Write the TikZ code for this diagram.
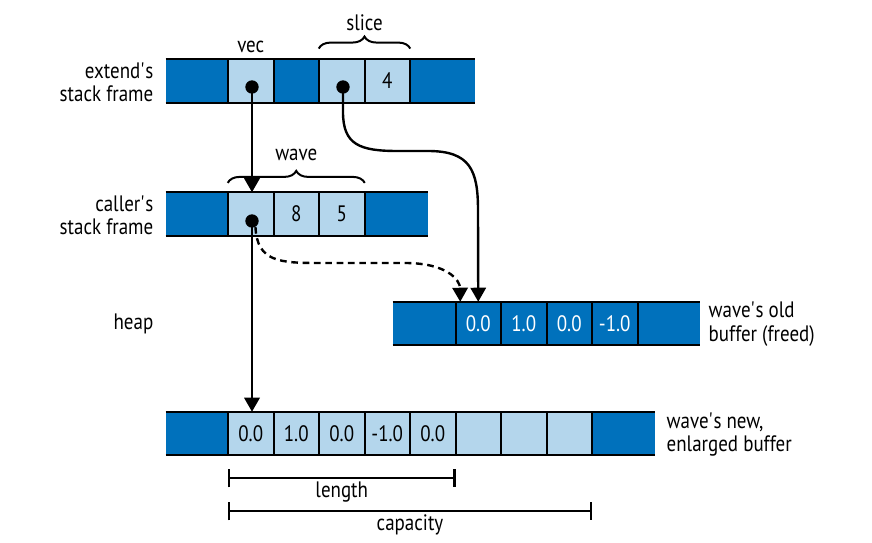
\documentclass[tikz,border=0pt]{standalone}
\usepackage{fontspec}
\setmainfont[FakeStretch=0.85]{PT Sans}
\usetikzlibrary{arrows.meta,decorations.pathreplacing}
\definecolor{azuloscuro}{HTML}{0071BC}
\definecolor{azulclaro}{HTML}{B4D6EC}
\begin{document}
\begin{tikzpicture}[x=0.75pt,y=-0.75pt,
    font=\fontsize{16.75}{17.5}\selectfont,
    celda/.style={rectangle,inner sep=0pt,minimum height=32.25pt,minimum width=34.125pt},
    oscura/.style={celda,fill=azuloscuro},
    clara/.style={celda,fill=azulclaro},
    extremo/.style={oscura,minimum width=#1},
    liberada/.style={oscura,text=white},
    borde/.style={line width=1.8pt},
    flecha/.style={line width=1.8pt,-{Triangle[width=11.5pt,length=10.5pt]}},
    punto/.style={circle,fill=black,inner sep=0pt,minimum size=10pt},
    llave/.style={line width=1.5pt,decorate,decoration={brace,amplitude=9pt}},
    cota/.style={line width=1.8pt,{Bar[width=13.5pt]}-{Bar[width=13.5pt]}},
    rotulo/.style={align=right,anchor=east}]
    \useasboundingbox (0,0) rectangle (872,543);
    % Marco de pila de extend
    \node[extremo=46.5pt] (e0) at (197,81) {};
    \node[clara] (e1) at (250.75,81) {};
    \node[oscura] (e2) at (296.25,81) {};
    \node[clara] (e3) at (341.75,81) {};
    \node[clara] (e4) at (387.25,81) {4};
    \node[extremo=48.75pt] (e5) at (442.5,81) {};
    \draw[borde] (e0.north west) -- (e5.north east);
    \draw[borde] (e0.south west) -- (e5.south east);
    \foreach \i in {0,...,4} \draw[borde] (e\i.north east) -- (e\i.south east);
    \node[rotulo] (lextend) at (158,82.5) {extend\textquotesingle s\\stack frame};
    % Marco de pila del llamador
    \node[extremo=46.5pt] (c0) at (197,214) {};
    \node[clara] (c1) at (250.75,214) {};
    \node[clara] (c2) at (296.25,214) {8};
    \node[clara] (c3) at (341.75,214) {5};
    \node[extremo=47.6pt] (c4) at (396.25,214) {};
    \draw[borde] (c0.north west) -- (c4.north east);
    \draw[borde] (c0.south west) -- (c4.south east);
    \foreach \i in {0,...,3} \draw[borde] (c\i.north east) -- (c\i.south east);
    \node[rotulo] (lcaller) at (158,215) {caller\textquotesingle s\\stack frame};
    % Heap
    \node[rotulo] (lheap) at (158,324) {heap};
    % Buffer viejo (liberado)
    \node[extremo=46.9pt] (o0) at (424.25,323.5) {};
    \node[liberada] (o1) at (478.25,323.5) {0.0};
    \node[liberada] (o2) at (523.75,323.5) {1.0};
    \node[liberada] (o3) at (569.25,323.5) {0.0};
    \node[liberada] (o4) at (614.75,323.5) {-1.0};
    \node[extremo=46.9pt] (o5) at (668.75,323.5) {};
    \draw[borde] (o0.north west) -- (o5.north east);
    \draw[borde] (o0.south west) -- (o5.south east);
    \foreach \i in {0,...,4} \draw[borde] (o\i.north east) -- (o\i.south east);
    \node[anchor=west,align=left] (lold) at (704,324) {wave\textquotesingle s old\\buffer (freed)};
    % Buffer nuevo, agrandado
    \node[extremo=46.5pt] (n0) at (197,433.5) {};
    \node[clara] (n1) at (250.75,433.5) {0.0};
    \node[clara] (n2) at (296.25,433.5) {1.0};
    \node[clara] (n3) at (341.75,433.5) {0.0};
    \node[clara] (n4) at (387.25,433.5) {-1.0};
    \node[clara] (n5) at (432.75,433.5) {0.0};
    \node[clara] (n6) at (478.25,433.5) {};
    \node[clara] (n7) at (523.75,433.5) {};
    \node[clara] (n8) at (569.25,433.5) {};
    \node[extremo=47.25pt] (n9) at (623.5,433.5) {};
    \draw[borde] (n0.north west) -- (n9.north east);
    \draw[borde] (n0.south west) -- (n9.south east);
    \foreach \i in {0,...,8} \draw[borde] (n\i.north east) -- (n\i.south east);
    \node[anchor=west,align=left] (lnew) at (662,434.5) {wave\textquotesingle s new,\\enlarged buffer};
    % Llaves y nombres
    \node[anchor=base] (lvec) at (250.75,52) {vec};
    \draw[llave] ([yshift=8pt]e3.north west) -- ([yshift=8pt]e4.north east);
    \node[anchor=base] (lslice) at (364.5,30.5) {slice};
    \draw[llave] ([yshift=7pt]c1.north west) -- ([yshift=7pt]c3.north east);
    \node[anchor=base] (lwave) at (296.25,160) {wave};
    % Punteros
    \node[punto] (pv) at (252,87) {};
    \node[punto] (ps) at (343,87) {};
    \node[punto] (pw) at (252,221) {};
    \draw[flecha] (pv.center) -- (pv |- c1.north);
    \draw[flecha] (ps.center) -- (343,112) .. controls (343,145) and (360,151) .. (398,151)
        -- (428,151) .. controls (470,151) and (478,170) .. (478,210) -- (o1.north);
    \draw[flecha,dash pattern=on 5pt off 3.5pt] (pw.-60) .. controls (257,262) and (280,263) .. (320,263)
        -- (405,263) .. controls (447,263) and (460,280) .. ([xshift=-13.5pt]o1.north);
    \draw[flecha] (pw.center) -- (pw |- n1.north);
    % Longitud y capacidad
    \draw[cota] ([yshift=-17.25pt]n1.south west) -- ([yshift=-17.25pt]n5.south east)
        node[midway,below=0pt,inner sep=2pt] (llength) {length};
    \draw[cota] ([yshift=-42pt]n1.south west) -- ([yshift=-42pt]n8.south east)
        node[midway,below=0pt,inner sep=2pt] (lcapacity) {capacity};
\end{tikzpicture}
\end{document}
